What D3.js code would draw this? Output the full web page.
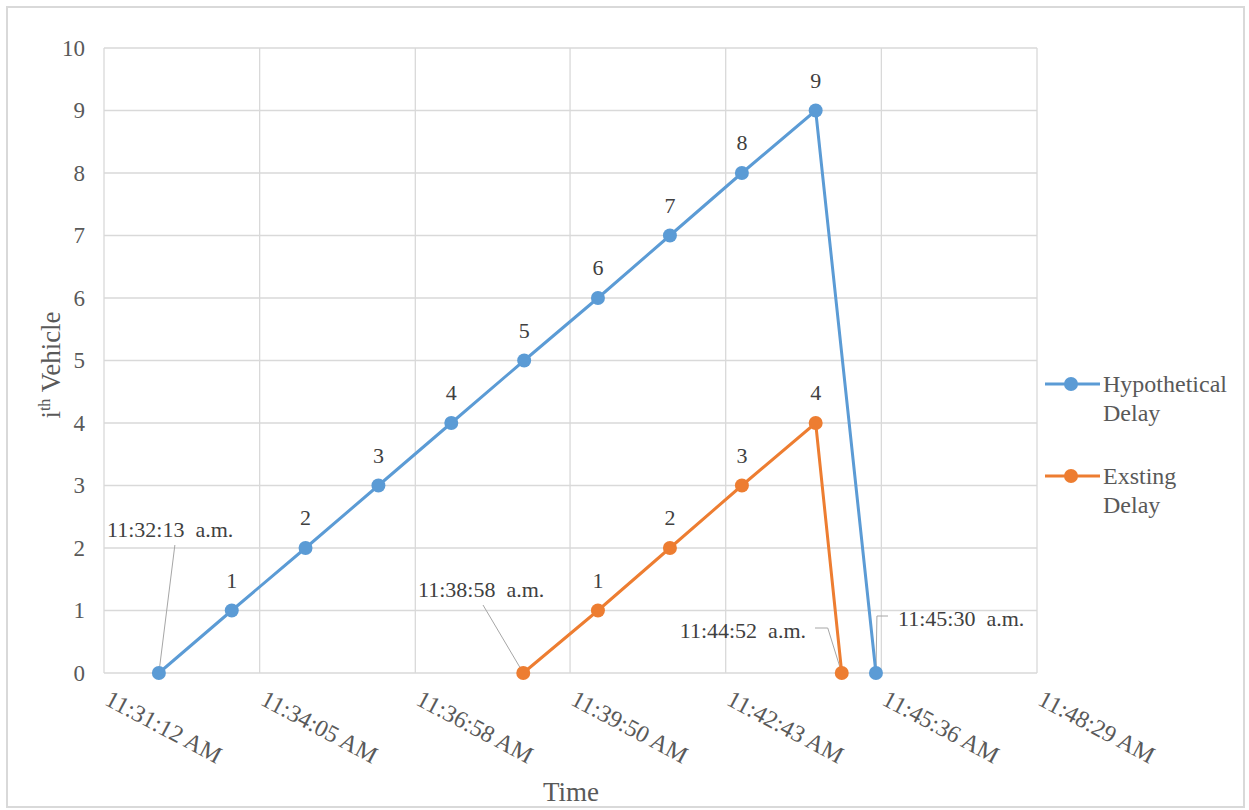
<!DOCTYPE html>
<html>
<head>
<meta charset="utf-8">
<script src="https://cdn.jsdelivr.net/npm/d3@7"></script>
</head>
<body style="margin:0;background:#fff">
<svg id="chart" width="1249" height="810"></svg>
<script>
// Arrival times (hh:mm:ss, morning) and vehicle counts for each series
const hypoTimes  = ["11:32:13","11:33:34","11:34:56","11:36:17","11:37:38","11:38:59","11:40:21","11:41:41","11:43:01","11:44:23","11:45:30"];
const hypoValues = [0,1,2,3,4,5,6,7,8,9,0];
const existTimes  = ["11:38:58","11:40:21","11:41:41","11:43:01","11:44:23","11:44:52"];
const existValues = [0,1,2,3,4,0];

const seriesNames = ["Hypothetical Delay", "Exsting Delay"];
const xTickTimes  = ["11:31:12","11:34:05","11:36:58","11:39:50","11:42:43","11:45:36","11:48:29"];
const xTickLabels = ["11:31:12 AM","11:34:05 AM","11:36:58 AM","11:39:50 AM","11:42:43 AM","11:45:36 AM","11:48:29 AM"];
const yTicks = [0,1,2,3,4,5,6,7,8,9,10];

const parseT = d3.timeParse("%H:%M:%S");
const colors = ["#5B9BD5", "#ED7D31"];
const textColor = "#595959";
const gridColor = "#D9D9D9";
const FONT = '"Liberation Serif", "Times New Roman", Tinos';

const svg = d3.select("#chart");
const m = { left: 104, right: 1037, top: 48, bottom: 673 };

// every text element gets the serif face and a size directly
function styleText(sel, size, fill) {
  return sel.attr("font-family", FONT).attr("font-size", size).attr("fill", fill || textColor);
}

// outer frame
svg.append("rect").attr("x", 7).attr("y", 7).attr("width", 1237).attr("height", 800)
  .attr("fill", "#fff").attr("stroke", "#D9D9D9").attr("stroke-width", 2);

const x = d3.scaleTime()
  .domain([parseT(xTickTimes[0]), parseT(xTickTimes[xTickTimes.length - 1])])
  .range([m.left, m.right]);
const y = d3.scaleLinear().domain([0, 10]).range([m.bottom, m.top]);

// gridlines
const grid = svg.append("g");
grid.selectAll("line.h").data(yTicks).join("line")
  .attr("x1", m.left).attr("x2", m.right)
  .attr("y1", d => y(d)).attr("y2", d => y(d))
  .attr("stroke", gridColor).attr("stroke-width", 1.3);
grid.selectAll("line.v").data(xTickTimes).join("line")
  .attr("x1", d => x(parseT(d))).attr("x2", d => x(parseT(d)))
  .attr("y1", m.top).attr("y2", m.bottom)
  .attr("stroke", gridColor).attr("stroke-width", 1.3);

// y axis
const yAxis = svg.append("g").attr("transform", `translate(${m.left},0)`)
  .call(d3.axisLeft(y).tickValues(yTicks).tickSize(0).tickPadding(19));
yAxis.attr("font-family", FONT);
yAxis.select(".domain").remove();
styleText(yAxis.selectAll("text"), 23);

// x axis, labels slanted downward
const xAxis = svg.append("g").attr("transform", `translate(0,${m.bottom})`)
  .call(d3.axisBottom(x).tickValues(xTickTimes.map(parseT))
    .tickFormat((d, i) => xTickLabels[i]).tickSize(0));
xAxis.attr("font-family", FONT);
xAxis.select(".domain").remove();
styleText(xAxis.selectAll("text"), 24)
  .attr("text-anchor", "start")
  .attr("dy", null).attr("y", 0)
  .attr("transform", "translate(-1,31) rotate(28)");

// axis titles
styleText(svg.append("text"), 27).attr("x", 571).attr("y", 801)
  .attr("text-anchor", "middle").text("Time");
const yt = styleText(svg.append("text"), 27).attr("transform", "translate(60,365) rotate(-90)")
  .attr("text-anchor", "middle");
yt.append("tspan").attr("font-family", FONT).text("i");
yt.append("tspan").attr("font-family", FONT).attr("dy", -10).attr("font-size", 16).text("th");
yt.append("tspan").attr("font-family", FONT).attr("dy", 10).text(" Vehicle");

// series
const series = [
  { times: hypoTimes, values: hypoValues },
  { times: existTimes, values: existValues }
];
const line = d3.line().x(d => x(d.t)).y(d => y(d.v));

// callout placement for the zero end points: label position and elbow path
const callouts = [
  { s: 0, i: 0, lx: 107, ly: 537, anchor: "start", path: p => [[p[0] + 16, 545], p] },
  { s: 0, i: hypoTimes.length - 1, lx: 898, ly: 626, anchor: "start", path: p => [[888, 616], [p[0] + 1, 616], p] },
  { s: 1, i: 0, lx: 418, ly: 597, anchor: "start", path: p => [[483, 605], p] },
  { s: 1, i: existTimes.length - 1, lx: 806, ly: 638, anchor: "end", path: p => [[815, 628], [p[0] - 14, 628], p] }
];

series.forEach(s => {
  s.pts = s.times.map((t, i) => ({ t: parseT(t), v: s.values[i], raw: t }));
});

// leader lines beneath the marks
callouts.forEach(c => {
  const p = series[c.s].pts[c.i];
  const pt = [x(p.t), y(p.v)];
  svg.append("path").attr("d", d3.line()(c.path(pt)))
    .attr("fill", "none").attr("stroke", "#A6A6A6").attr("stroke-width", 1);
});

series.forEach((s, si) => {
  svg.append("path").datum(s.pts).attr("d", line)
    .attr("fill", "none").attr("stroke", colors[si]).attr("stroke-width", 3);
  svg.append("g").selectAll("circle").data(s.pts).join("circle")
    .attr("cx", d => x(d.t)).attr("cy", d => y(d.v)).attr("r", 7)
    .attr("fill", colors[si]);
  // value labels above each non-zero point
  styleText(svg.append("g").selectAll("text").data(s.pts.filter(d => d.v > 0)).join("text"), 22, "#404040")
    .attr("x", d => x(d.t)).attr("y", d => y(d.v) - 23)
    .attr("text-anchor", "middle")
    .text(d => d.v);
});

callouts.forEach(c => {
  const p = series[c.s].pts[c.i];
  styleText(svg.append("text"), 22, "#404040").attr("x", c.lx).attr("y", c.ly)
    .attr("text-anchor", c.anchor)
    .text(p.raw + "\u00A0 a.m.");
});

// legend
const legendY = [384, 476];
seriesNames.forEach((name, i) => {
  const g = svg.append("g");
  g.append("line").attr("x1", 1045).attr("x2", 1100).attr("y1", legendY[i]).attr("y2", legendY[i])
    .attr("stroke", colors[i]).attr("stroke-width", 3);
  g.append("circle").attr("cx", 1071).attr("cy", legendY[i]).attr("r", 7).attr("fill", colors[i]);
  name.split(" ").forEach((w, k) => {
    styleText(g.append("text"), 24).attr("x", 1103).attr("y", legendY[i] + 8 + k * 29).text(w);
  });
});
</script>
</body>
</html>
